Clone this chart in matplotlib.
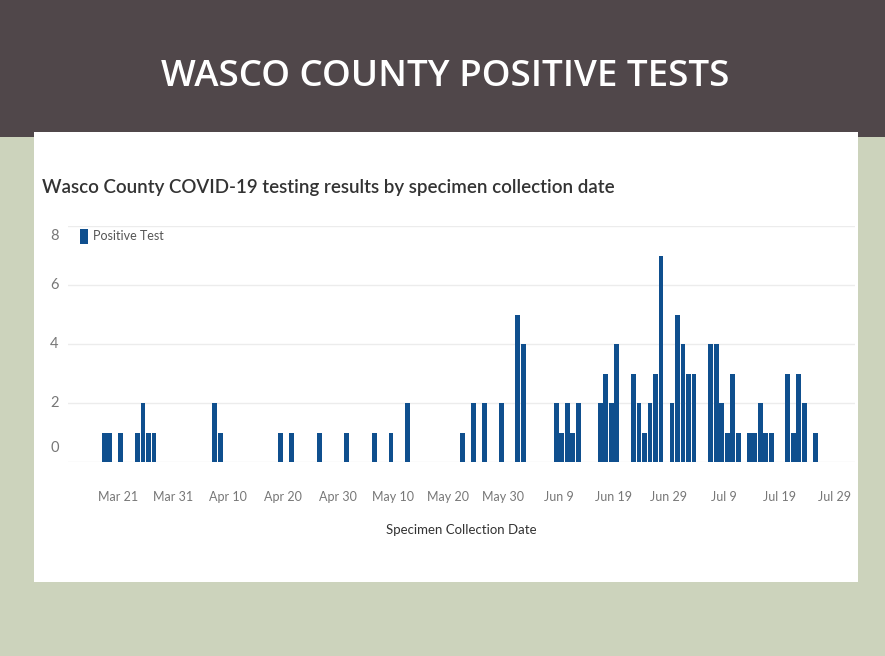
import matplotlib
matplotlib.use("Agg")
import matplotlib.pyplot as plt
import matplotlib.dates as mdates
from matplotlib.patches import Rectangle
import numpy as np
import pandas as pd

# ---- data ----
dates = ["2020-03-19", "2020-03-20", "2020-03-22", "2020-03-25", "2020-03-26", "2020-03-27",
         "2020-03-28", "2020-04-08", "2020-04-09", "2020-04-20", "2020-04-22", "2020-04-27",
         "2020-05-02", "2020-05-07", "2020-05-10", "2020-05-13", "2020-05-23", "2020-05-25",
         "2020-05-27", "2020-05-30", "2020-06-02", "2020-06-03", "2020-06-09", "2020-06-10",
         "2020-06-11", "2020-06-12", "2020-06-13", "2020-06-17", "2020-06-18", "2020-06-19",
         "2020-06-20", "2020-06-23", "2020-06-24", "2020-06-25", "2020-06-26", "2020-06-27",
         "2020-06-28", "2020-06-30", "2020-07-01", "2020-07-02", "2020-07-03", "2020-07-04",
         "2020-07-07", "2020-07-08", "2020-07-09", "2020-07-10", "2020-07-11", "2020-07-12",
         "2020-07-14", "2020-07-15", "2020-07-16", "2020-07-17", "2020-07-18", "2020-07-21",
         "2020-07-22", "2020-07-23", "2020-07-24", "2020-07-26"]
positive = [1, 1, 1, 1, 2, 1,
            1, 2, 1, 1, 1, 1,
            1, 1, 1, 2, 1, 2,
            2, 2, 5, 4, 2, 1,
            2, 1, 2, 2, 3, 2,
            4, 3, 2, 1, 2, 3,
            7, 2, 5, 4, 3, 3,
            4, 4, 2, 1, 3, 1,
            1, 1, 2, 1, 1, 3,
            1, 3, 2, 1]
tick_dates = ["2020-03-21", "2020-03-31", "2020-04-10", "2020-04-20", "2020-04-30", "2020-05-10",
              "2020-05-20", "2020-05-30", "2020-06-09", "2020-06-19", "2020-06-29", "2020-07-09",
              "2020-07-19", "2020-07-29"]
tick_labels = ["Mar 21", "Mar 31", "Apr 10", "Apr 20", "Apr 30", "May 10", "May 20", "May 30",
               "Jun 9", "Jun 19", "Jun 29", "Jul 9", "Jul 19", "Jul 29"]
y_ticks = [0, 2, 4, 6, 8]

slide_title = "WASCO COUNTY POSITIVE TESTS"
chart_title = "Wasco County COVID-19 testing results by specimen collection date"
legend_label = "Positive Test"
x_label = "Specimen Collection Date"

# ---- style ----
BROWN = "#50474a"
SAGE = "#ccd3bc"
BAR = "#0f4f8e"
FONT = ["Lato", "DejaVu Sans"]

W, H = 885, 656
fig = plt.figure(figsize=(W / 100, H / 100), dpi=100)
fig.patch.set_facecolor(SAGE)

def fx(px):
    return px / W

def fy(py):
    return 1 - py / H

# brown header band
fig.patches.append(Rectangle((0, fy(137)), 1, 137 / H, transform=fig.transFigure,
                             facecolor=BROWN, edgecolor="none", zorder=0))
# white panel
fig.patches.append(Rectangle((fx(34), fy(582)), (858 - 34) / W, (582 - 132) / H,
                             transform=fig.transFigure, facecolor="white",
                             edgecolor="none", zorder=1))

fig.text(fx(445), fy(77), slide_title, color="white", fontsize=26.5, fontweight="semibold",
         ha="center", va="center", family=["Open Sans", "DejaVu Sans"], zorder=3)

fig.text(fx(42), fy(188), chart_title, color="#333333", fontsize=13.5, fontweight="semibold",
         ha="left", va="center", family=FONT, zorder=3)

# axes
left, right = 68, 855
top, bottom = 226, 462
ax = fig.add_axes([fx(left), fy(bottom), (right - left) / W, (bottom - top) / H])
ax.set_zorder(2)
ax.patch.set_alpha(0)

d = pd.to_datetime(dates)
ax.bar(d, positive, width=0.88, color=BAR, edgecolor="none", zorder=3)

ref = pd.Timestamp("2020-03-21")
ax.set_xlim(mdates.date2num(ref - pd.Timedelta(days=8.6)),
            mdates.date2num(ref + pd.Timedelta(days=134.2)))
ax.set_ylim(0, 8)

for v in y_ticks:
    ax.axhline(v, color="#ececec", lw=1.0, zorder=1)

for s in ax.spines.values():
    s.set_visible(False)
ax.set_yticks([])
ax.set_xticks(pd.to_datetime(tick_dates) + pd.Timedelta(hours=10))
ax.set_xticklabels(tick_labels, family=FONT, fontsize=9, color="#777777")
ax.tick_params(axis="x", length=0, pad=21)

# y labels (Tableau-style: top label inside below, bottom label above)
for v in y_ticks:
    va = "center"
    off = 0
    if v == 0:
        va = "bottom"
        off = 0.25
    elif v == 8:
        va = "top"
        off = -0.1
    ax.text(-0.012, v + off, str(v), transform=ax.get_yaxis_transform(),
            ha="right", va=va, fontsize=10.5, color="#777777", family=FONT)

ax.set_xlabel(x_label, family=FONT, fontsize=9.5, color="#333333", labelpad=15)

# legend
fig.patches.append(Rectangle((fx(80), fy(244)), 8 / W, 15 / H, transform=fig.transFigure,
                             facecolor=BAR, edgecolor="none", zorder=4))
fig.text(fx(93), fy(236), legend_label, color="#555555", fontsize=9, ha="left",
         va="center", family=FONT, zorder=4)

fig.savefig("out.png", dpi=100, facecolor=fig.get_facecolor())
